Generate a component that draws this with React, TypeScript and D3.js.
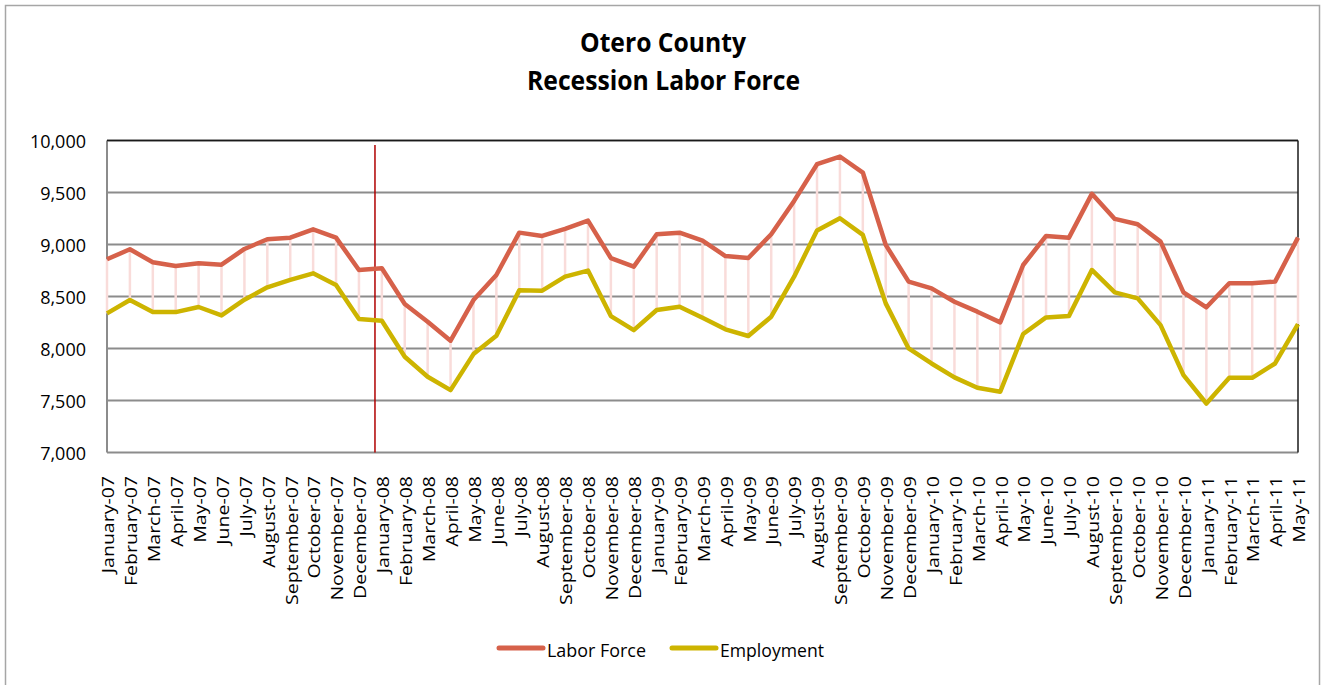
import React from "react";
import * as d3 from "d3";

const MONTHS = [
  "January-07","February-07","March-07","April-07","May-07","June-07","July-07","August-07","September-07","October-07","November-07","December-07",
  "January-08","February-08","March-08","April-08","May-08","June-08","July-08","August-08","September-08","October-08","November-08","December-08",
  "January-09","February-09","March-09","April-09","May-09","June-09","July-09","August-09","September-09","October-09","November-09","December-09",
  "January-10","February-10","March-10","April-10","May-10","June-10","July-10","August-10","September-10","October-10","November-10","December-10",
  "January-11","February-11","March-11","April-11","May-11",
];

const LABOR_FORCE = [
  8858, 8954, 8829, 8793, 8819, 8806, 8957, 9050, 9066, 9146, 9066, 8755,
  8771, 8428, 8258, 8075, 8466, 8707, 9114, 9082, 9150, 9230, 8870, 8787,
  9098, 9114, 9037, 8889, 8870, 9098, 9419, 9772, 9846, 9692, 8996, 8643,
  8578, 8450, 8354, 8251, 8803, 9082, 9066, 9487, 9246, 9195, 9028, 8540,
  8396, 8627, 8627, 8643, 9066,
];

const EMPLOYMENT = [
  8338, 8466, 8350, 8350, 8399, 8318, 8469, 8588, 8659, 8723, 8611, 8283,
  8267, 7921, 7728, 7600, 7946, 8123, 8559, 8556, 8691, 8749, 8312, 8177,
  8370, 8402, 8296, 8184, 8120, 8306, 8691, 9134, 9252, 9092, 8434, 8001,
  7856, 7722, 7622, 7584, 8139, 8299, 8312, 8755, 8540, 8482, 8225, 7744,
  7471, 7718, 7718, 7856, 8235,
];

const Y_TICKS = [7000, 7500, 8000, 8500, 9000, 9500, 10000];
const TITLE_LINES = ["Otero County", "Recession Labor Force"];
const SERIES_NAMES = ["Labor Force", "Employment"];
const RECESSION_INDEX = 11.7;

const LF_COLOR = "#D6614A";
const EMP_COLOR = "#CDB400";
const DROP_COLOR = "#F9DCDA";
const FONT = "'Open Sans', 'DejaVu Sans', sans-serif";

export default function App() {
  const left = 107, right = 1298, top = 140.5, bottom = 452.5;
  const x = d3.scaleLinear().domain([0, MONTHS.length - 1]).range([left, right]);
  const y = d3.scaleLinear().domain([7000, 10000]).range([bottom, top]);
  const fmt = d3.format(",");
  const line = d3
    .line<number>()
    .x((_, i) => x(i))
    .y((d) => y(d));

  return (
    <svg
      width={1322}
      height={685}
      style={{ position: "absolute", left: 0, top: 0, background: "#fff" }}
    >
      <rect x={0} y={0} width={1322} height={685} fill="#fff" />
      <rect x={5.5} y={5.5} width={1314} height={700} fill="none" stroke="#A6A6A6" strokeWidth={1.5} />

      {/* Title */}
      <text x={663} y={52} textAnchor="middle" fontFamily={FONT} fontWeight={700} fontSize={26} textLength={166} lengthAdjust="spacingAndGlyphs" fill="#000">
        {TITLE_LINES[0]}
      </text>
      <text x={663.5} y={90} textAnchor="middle" fontFamily={FONT} fontWeight={700} fontSize={26} textLength={273} lengthAdjust="spacingAndGlyphs" fill="#000">
        {TITLE_LINES[1]}
      </text>

      {/* Gridlines */}
      {Y_TICKS.map((t) => (
        <line key={t} x1={left} x2={right} y1={y(t)} y2={y(t)} stroke="#8C8C8C" strokeWidth={2} />
      ))}
      <line x1={left} x2={left} y1={top} y2={bottom} stroke="#8C8C8C" strokeWidth={2} />
      <line x1={left} x2={right} y1={top} y2={top} stroke="#1a1a1a" strokeWidth={1.5} />
      <line x1={right} x2={right} y1={top} y2={bottom} stroke="#1a1a1a" strokeWidth={1.5} />

      {/* Y tick labels */}
      {Y_TICKS.map((t) => (
        <text key={t} x={86} y={y(t)} textAnchor="end" dominantBaseline="central" fontFamily={FONT} fontSize={18} fill="#000">
          {fmt(t)}
        </text>
      ))}

      {/* Drop lines */}
      {LABOR_FORCE.map((v, i) => (
        <line key={i} x1={x(i)} x2={x(i)} y1={y(v)} y2={y(EMPLOYMENT[i])} stroke={DROP_COLOR} strokeWidth={2.5} />
      ))}

      {/* Recession marker */}
      <line x1={x(RECESSION_INDEX)} x2={x(RECESSION_INDEX)} y1={145} y2={bottom} stroke="#B00000" strokeWidth={1.5} />

      {/* Series */}
      <path d={line(EMPLOYMENT) || ""} fill="none" stroke={EMP_COLOR} strokeWidth={4.5} strokeLinejoin="round" />
      <path d={line(LABOR_FORCE) || ""} fill="none" stroke={LF_COLOR} strokeWidth={4.5} strokeLinejoin="round" />

      {/* X labels */}
      {MONTHS.map((m, i) => (
        <text
          key={m}
          transform={`translate(${x(i) + 1},476) rotate(-90) scale(1.22,1)`}
          textAnchor="end"
          dominantBaseline="central"
          fontFamily={FONT}
          fontSize={16}
          fill="#000"
        >
          {m}
        </text>
      ))}

      {/* Legend */}
      <line x1={499} x2={543} y1={648} y2={648} stroke={LF_COLOR} strokeWidth={5} strokeLinecap="round" />
      <text x={547} y={657} fontFamily={FONT} fontSize={19} textLength={99} lengthAdjust="spacingAndGlyphs" fill="#000">
        {SERIES_NAMES[0]}
      </text>
      <line x1={672} x2={716} y1={648} y2={648} stroke={EMP_COLOR} strokeWidth={5} strokeLinecap="round" />
      <text x={720} y={657} fontFamily={FONT} fontSize={19} textLength={104} lengthAdjust="spacingAndGlyphs" fill="#000">
        {SERIES_NAMES[1]}
      </text>
    </svg>
  );
}
